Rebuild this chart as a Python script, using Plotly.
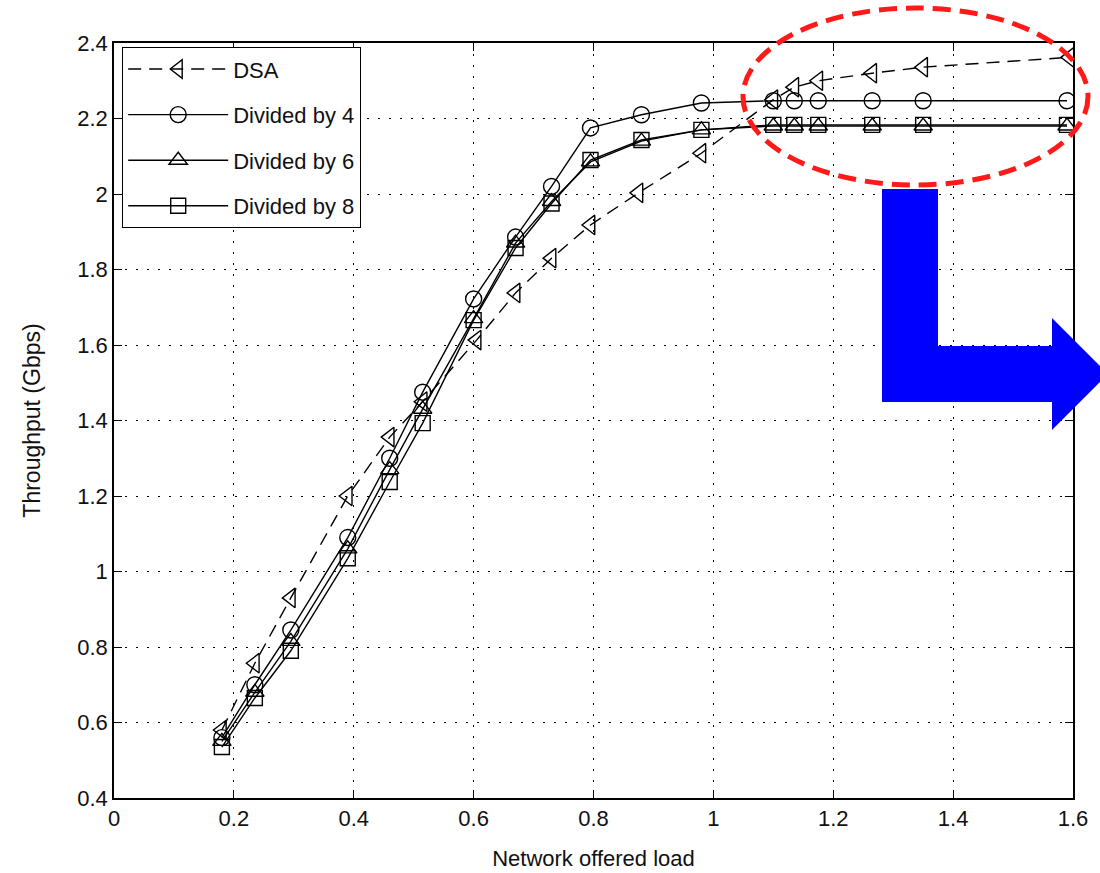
import plotly.graph_objects as go

# ---- data ----
x_dsa = [0.18, 0.235, 0.295, 0.39, 0.46, 0.515, 0.605, 0.67, 0.73, 0.795, 0.875, 0.98, 1.1, 1.135, 1.175, 1.265, 1.35, 1.594]
y_dsa = [0.58, 0.757, 0.93, 1.2, 1.356, 1.45, 1.613, 1.738, 1.83, 1.918, 2.003, 2.108, 2.25, 2.283, 2.30, 2.32, 2.336, 2.362]

x_div = [0.18, 0.235, 0.295, 0.39, 0.46, 0.515, 0.6, 0.67, 0.73, 0.795, 0.88, 0.98, 1.1, 1.135, 1.175, 1.265, 1.35, 1.59]
y_div4 = [0.56, 0.70, 0.845, 1.09, 1.30, 1.475, 1.722, 1.886, 2.02, 2.175, 2.21, 2.241, 2.247, 2.247, 2.247, 2.247, 2.247, 2.247]
y_div6 = [0.55, 0.68, 0.815, 1.06, 1.27, 1.43, 1.67, 1.87, 1.98, 2.085, 2.14, 2.17, 2.18, 2.18, 2.18, 2.18, 2.18, 2.18]
y_div8 = [0.535, 0.665, 0.79, 1.035, 1.237, 1.393, 1.666, 1.857, 1.975, 2.09, 2.143, 2.17, 2.183, 2.183, 2.183, 2.183, 2.183, 2.183]

series_names = ["DSA", "Divided by 4", "Divided by 6", "Divided by 8"]

# ---- layout geometry (pixels) ----
W, H = 1100, 873
L, R, T, B = 114, 1073, 43, 798


def px(p):
    return (p - L) / (R - L)


def py(p):
    return (B - p) / (B - T)


FONT = "Liberation Sans, Arial, sans-serif"

fig = go.Figure()

fig.add_trace(go.Scatter(
    x=x_dsa, y=y_dsa, name=series_names[0], mode="lines+markers", legendgroup="a",
    line=dict(color="black", width=1.4, dash="13px,8px"),
    marker=dict(symbol="triangle-left-open", size=17, color="black", line=dict(width=1.4)),
))
fig.add_trace(go.Scatter(
    x=x_div, y=y_div4, name=series_names[1], mode="lines+markers", legendgroup="b",
    line=dict(color="black", width=1.4),
    marker=dict(symbol="circle-open", size=16, color="black", line=dict(width=1.4)),
))
fig.add_trace(go.Scatter(
    x=x_div, y=y_div6, name=series_names[2], mode="lines+markers", legendgroup="c",
    line=dict(color="black", width=1.4),
    marker=dict(symbol="triangle-up-open", size=16, color="black", line=dict(width=1.4)),
))
fig.add_trace(go.Scatter(
    x=x_div, y=y_div8, name=series_names[3], mode="lines+markers", legendgroup="d",
    line=dict(color="black", width=1.4),
    marker=dict(symbol="square-open", size=15, color="black", line=dict(width=1.4)),
))

axis_common = dict(
    showline=True, linecolor="black", linewidth=1.5, mirror="allticks",
    ticks="inside", ticklen=8, tickcolor="black", tickwidth=1.2,
    showgrid=True, gridcolor="black", gridwidth=1, griddash="2px,9px",
    zeroline=False, dtick=0.2, automargin=False,
    tickfont=dict(family=FONT, size=22, color="#111"),
)

fig.update_xaxes(range=[0, 1.6], tick0=0,
                 title=dict(text="Network offered load", font=dict(family=FONT, size=22, color="#111"), standoff=20),
                 **axis_common)
fig.update_yaxes(range=[0.4, 2.4], tick0=0.4,
                 title=dict(text="Throughput (Gbps)", font=dict(family=FONT, size=23, color="#111"), standoff=30),
                 **axis_common)

shapes = []
# red dashed ellipse
shapes.append(dict(
    type="circle", xref="paper", yref="paper",
    x0=px(743), x1=px(1088), y0=py(185), y1=py(8),
    line=dict(color="#ff1a1a", width=5, dash="18px,9px"),
    fillcolor="rgba(0,0,0,0)", layer="above",
))
# blue L-shaped arrow
pts = [(882, 189), (938, 189), (938, 346), (1052, 346), (1052, 318),
       (1108, 374), (1052, 430), (1052, 402), (882, 402)]
path = "M " + " L ".join(f"{px(a):.5f},{py(b):.5f}" for a, b in pts) + " Z"
shapes.append(dict(
    type="path", xref="paper", yref="paper", path=path,
    fillcolor="#0000ff", line=dict(width=0), layer="above",
))

fig.update_layout(
    width=W, height=H,
    margin=dict(l=L, r=W - R, t=T, b=H - B),
    plot_bgcolor="white", paper_bgcolor="white",
    font=dict(family=FONT, size=22, color="#111"),
    showlegend=True,
    legend=dict(
        x=px(122), y=py(47), xanchor="left", yanchor="top",
        bgcolor="white", bordercolor="black", borderwidth=1.2,
        font=dict(family=FONT, size=22, color="#111"),
        tracegroupgap=14, itemwidth=100,
        entrywidth=165, entrywidthmode="pixels",
    ),
    shapes=shapes,
)

fig.write_html(
    "out.html",
    config={"displayModeBar": False},
    post_script="document.body.style.margin='0px';document.body.style.overflow='hidden';",
)
